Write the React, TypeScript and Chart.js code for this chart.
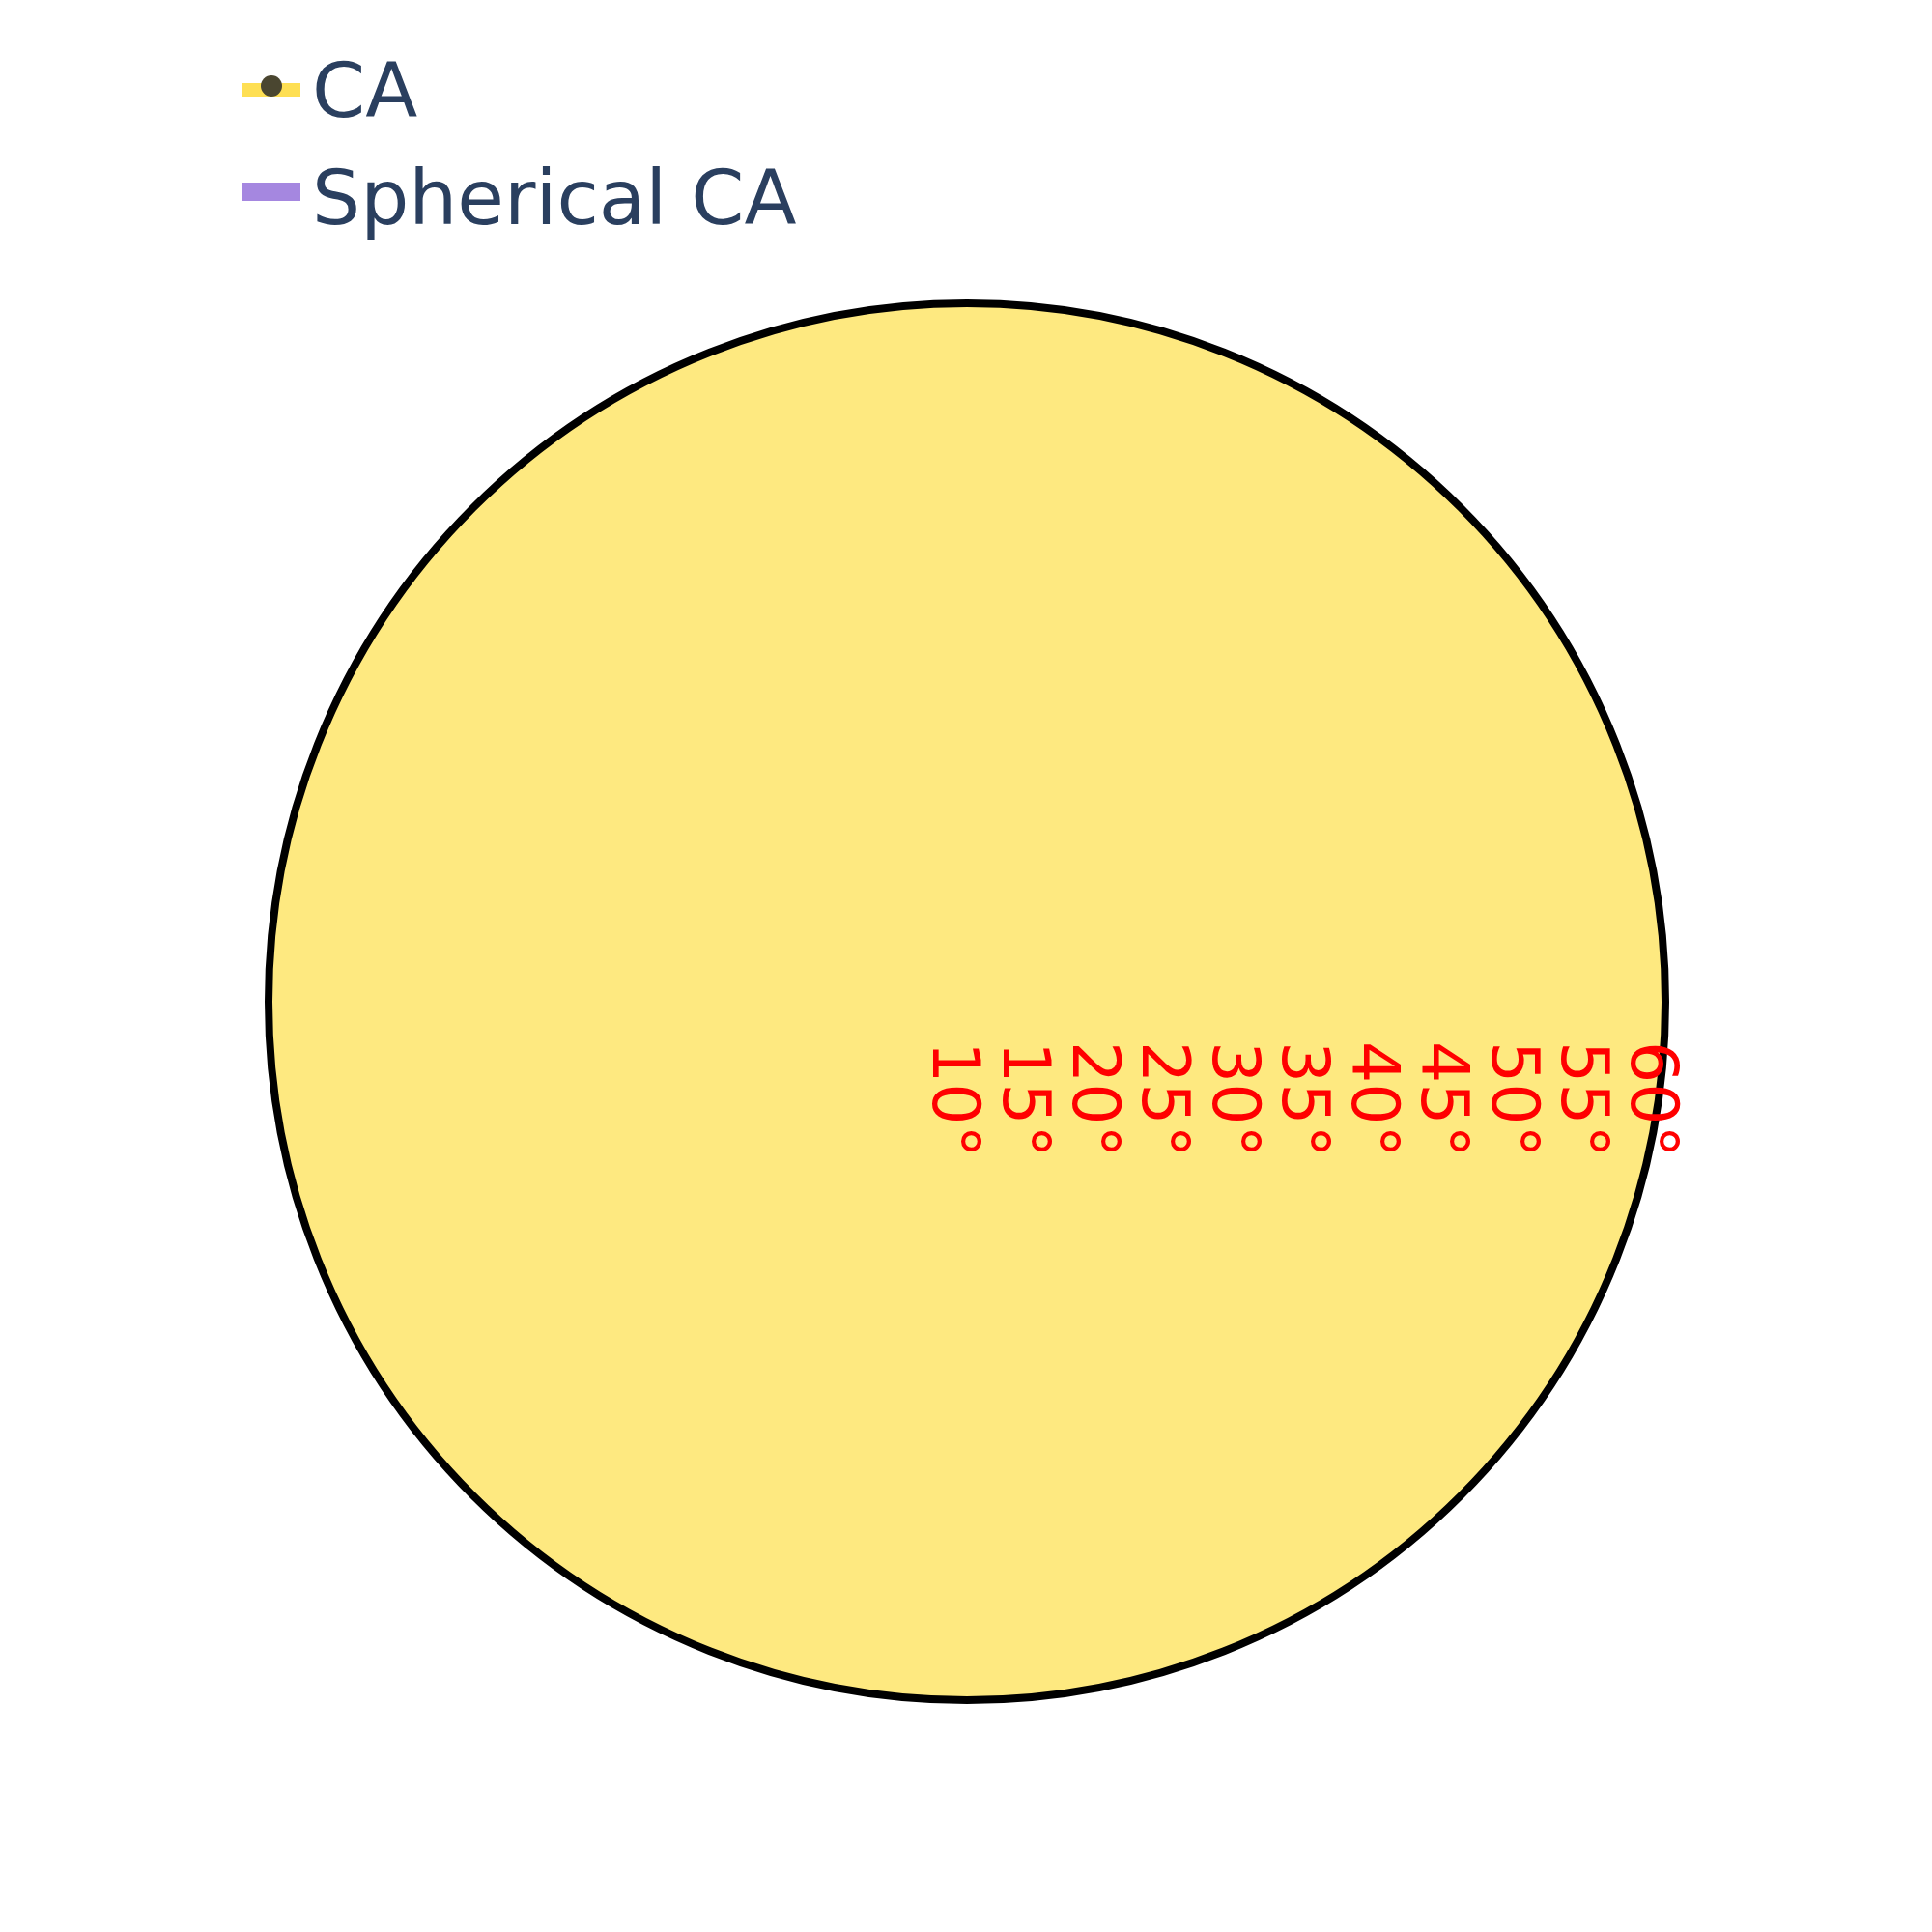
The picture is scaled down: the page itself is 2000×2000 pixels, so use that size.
import React, { useEffect, useRef } from 'react';
import { Chart, registerables } from 'chart.js';

Chart.register(...registerables);

const seriesNames = ['CA', 'Spherical CA'];
const caValues = [60];
const sphericalValues: number[] = [];
const tickValues = [10, 15, 20, 25, 30, 35, 40, 45, 50, 55, 60];

const App: React.FC = () => {
    const chartRef = useRef<HTMLCanvasElement>(null);

    useEffect(() => {
        if (!chartRef.current) return;
        const ctx = chartRef.current.getContext('2d');
        if (!ctx) return;

        const overlay = {
            id: 'overlay',
            afterDraw(chart: any) {
                const c = chart.ctx;
                const scale = chart.scales.r;
                const cx = scale.xCenter;
                const cy = scale.yCenter;
                c.save();
                // outer border
                c.beginPath();
                c.arc(cx, cy, scale.getDistanceFromCenterForValue(60), 0, Math.PI * 2);
                c.lineWidth = 8;
                c.strokeStyle = '#000';
                c.stroke();
                // tick labels, rotated
                c.fillStyle = 'red';
                c.font = '68px "DejaVu Sans"';
                c.textAlign = 'left';
                c.textBaseline = 'top';
                tickValues.forEach((v) => {
                    const r = scale.getDistanceFromCenterForValue(v);
                    c.save();
                    c.translate(cx + r + 17, cy + 41);
                    c.rotate(Math.PI / 2);
                    c.fillText(v + '°', 0, 0);
                    c.restore();
                });
                // legend
                c.textBaseline = 'alphabetic';
                c.font = '79px "DejaVu Sans"';
                c.fillStyle = '#2a3f5f';
                c.fillRect(0, 0, 0, 0);
                c.fillStyle = 'rgba(254,215,40,0.8)';
                c.fillRect(251, 86, 60, 14);
                c.beginPath();
                c.arc(281, 89, 11, 0, Math.PI * 2);
                c.fillStyle = '#4a4630';
                c.fill();
                c.fillStyle = '#a587e0';
                c.fillRect(251, 189, 60, 19);
                c.fillStyle = '#2a3f5f';
                c.fillText(seriesNames[0], 323, 121);
                c.fillText(seriesNames[1], 323, 232);
                c.restore();
            },
        };

        const chart = new Chart(ctx, {
            type: 'polarArea',
            data: {
                labels: ['CA'],
                datasets: [
                    {
                        label: seriesNames[0],
                        data: caValues,
                        backgroundColor: 'rgb(254,233,128)',
                        borderWidth: 0,
                    },
                    {
                        label: seriesNames[1],
                        data: sphericalValues,
                        backgroundColor: '#a587e0',
                        borderWidth: 0,
                    },
                ],
            },
            options: {
                responsive: false,
                animation: false,
                layout: { padding: { left: 278, right: 276, top: 314, bottom: 240 } },
                plugins: { legend: { display: false }, tooltip: { enabled: false } },
                scales: {
                    r: {
                        min: 10,
                        max: 60,
                        z: 1,
                        ticks: { stepSize: 5, display: false },
                        grid: { color: 'rgba(70,60,10,0.85)', lineWidth: 1.3 },
                        angleLines: { display: false },
                        pointLabels: { display: false },
                    },
                },
            },
            plugins: [overlay],
        });

        return () => {
            chart.destroy();
        };
    }, []);

    return (
        <div style={{ position: 'absolute', left: 0, top: 0, background: '#fff' }}>
            <canvas ref={chartRef} width={2000} height={2000} style={{ width: 2000, height: 2000 }}></canvas>
        </div>
    );
};

export default App;
